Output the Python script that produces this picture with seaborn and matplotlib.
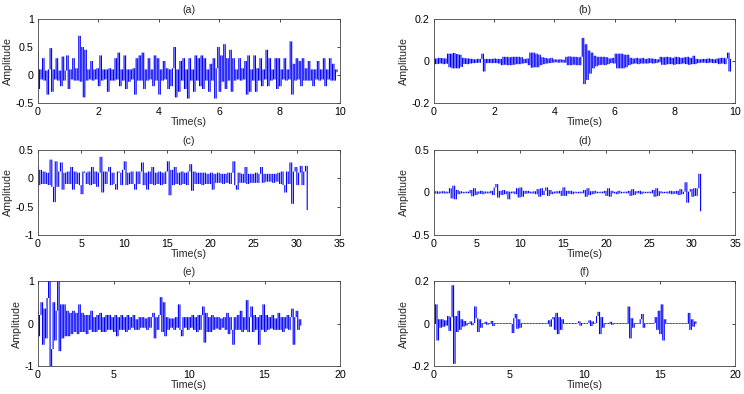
import matplotlib
matplotlib.use("Agg")
import matplotlib.pyplot as plt
import numpy as np
import pandas as pd
import seaborn as sns
from matplotlib.ticker import FuncFormatter

sns.set_theme(style="white")
plt.rcParams["font.family"] = ["Liberation Sans", "DejaVu Sans"]

# (a) samples every 0.05 s
amp_a = [
    0.42, -0.25, 0.1, -0.08, 0.3, -0.1, 0.08, -0.35, 0.1, 0.48,
    -0.3, 0.1, -0.08, 0.3, -0.1, 0.08, -0.2, 0.33, -0.1, 0.08,
    0.35, -0.25, 0.1, -0.08, 0.3, -0.1, 0.12, -0.1, 0.7, -0.12,
    0.5, -0.4, 0.45, -0.1, 0.1, -0.08, 0.25, -0.1, 0.1, -0.08,
    0.12, -0.2, 0.35, -0.1, 0.1, -0.08, 0.1, -0.3, 0.12, -0.1,
    0.1, -0.1, 0.3, -0.08, 0.4, -0.2, 0.1, -0.1, 0.35, -0.25,
    0.1, -0.12, 0.1, -0.08, 0.12, -0.35, 0.3, -0.1, 0.35, -0.1,
    0.4, -0.25, 0.1, -0.1, 0.3, -0.08, 0.1, -0.2, 0.35, -0.1,
    0.3, -0.35, 0.1, -0.1, 0.25, -0.08, 0.12, -0.25, 0.1, -0.2,
    0.12, 0.5, -0.4, 0.1, -0.3, 0.25, -0.1, 0.3, -0.25, 0.1,
    -0.42, 0.3, -0.1, 0.1, -0.3, 0.35, -0.1, 0.3, -0.2, 0.35,
    -0.25, 0.3, -0.1, 0.1, -0.3, 0.2, -0.1, 0.3, -0.42, 0.12,
    0.5, -0.3, 0.35, -0.12, 0.55, -0.25, 0.3, -0.1, 0.45, -0.3,
    0.3, -0.1, 0.1, -0.08, 0.3, -0.1, 0.12, -0.08, 0.25, -0.35,
    0.35, -0.3, 0.1, -0.1, 0.35, -0.3, 0.12, -0.1, 0.3, -0.2,
    0.1, -0.08, 0.45, -0.2, 0.3, -0.1, 0.1, -0.08, 0.3, -0.25,
    0.3, -0.2, 0.1, -0.08, 0.3, -0.1, 0.1, -0.08, 0.6, -0.35,
    0.2, -0.1, 0.3, -0.08, 0.25, -0.2, 0.3, -0.1, 0.12, -0.1,
    0.25, -0.1, 0.1, -0.2, 0.1, -0.08, 0.25, -0.1, 0.1, -0.08,
    0.3, -0.2, 0.1, -0.08, 0.3, -0.1, 0.2, -0.1, 0.1, 0.05,
]
dur_a = 9.95

# (b) samples every 0.05 s
amp_b = [
    0.015, -0.015, 0.012, -0.014, 0.015, -0.012, 0.014, -0.015, 0.012, -0.013,
    0.035, -0.03, 0.035, -0.035, 0.038, -0.035, 0.033, -0.035, 0.03, -0.028,
    0.015, -0.014, 0.013, -0.015, 0.012, -0.012, 0.01, -0.01, 0.008, -0.009,
    0.01, -0.008, 0.01, 0.035, -0.05, 0.01, -0.01, 0.01, -0.01, 0.01,
    -0.01, 0.012, -0.01, 0.01, -0.012, 0.01, -0.02, 0.02, -0.018, 0.02,
    -0.02, 0.018, -0.02, 0.02, -0.018, 0.02, -0.015, 0.02, -0.015, 0.018,
    -0.012, 0.01, -0.01, 0.012, -0.02, 0.04, -0.032, 0.04, -0.03, 0.035,
    -0.03, 0.03, -0.02, 0.018, -0.015, 0.015, -0.012, 0.012, -0.01, 0.015,
    -0.008, 0.008, -0.006, 0.007, -0.008, 0.008, -0.007, 0.006, -0.008, 0.02,
    -0.02, 0.022, -0.02, 0.02, -0.018, 0.02, -0.02, 0.018, -0.02, 0.02,
    0.11, -0.11, 0.08, -0.09, 0.05, -0.06, 0.04, -0.035, 0.025, -0.025,
    0.02, -0.02, 0.02, -0.018, 0.02, -0.02, 0.018, -0.015, 0.012, -0.01,
    0.015, -0.012, 0.035, -0.035, 0.035, -0.035, 0.035, -0.035, 0.03, -0.03,
    0.03, -0.02, 0.015, -0.015, 0.012, -0.012, 0.015, -0.015, 0.012, -0.012,
    0.015, -0.012, 0.01, -0.012, 0.013, -0.01, 0.012, -0.012, 0.01, -0.01,
    0.008, -0.006, 0.02, -0.018, 0.018, -0.018, 0.02, -0.015, 0.018, -0.015,
    0.015, -0.018, 0.02, -0.015, 0.018, -0.015, 0.015, -0.012, 0.018, -0.015,
    0.02, -0.018, 0.015, -0.015, 0.025, -0.015, 0.01, -0.01, 0.008, -0.008,
    0.01, -0.008, 0.01, -0.01, 0.012, -0.008, 0.01, -0.01, 0.008, -0.01,
    0.012, -0.015, 0.015, -0.012, 0.015, -0.015, 0.012, 0.04, -0.05, 0.01,
]
dur_b = 9.9

# (c) samples every 0.2 s
amp_c = [
    0.2, -0.12, 0.15, -0.1, 0.12, -0.1, 0.1, -0.12, 0.33, -0.15,
    -0.42, 0.3, -0.15, 0.12, 0.28, -0.2, 0.1, -0.1, 0.12, -0.1,
    0.2, -0.2, 0.12, -0.1, 0.1, -0.12, -0.28, 0.12, 0.1, -0.1,
    0.12, -0.12, 0.2, -0.1, 0.12, -0.15, 0.1, 0.38, -0.25, 0.12,
    -0.1, 0.12, 0.2, -0.12, 0.1, -0.1, -0.2, 0.12, 0.1, -0.12,
    0.15, 0.3, -0.12, 0.1, -0.1, 0.12, -0.1, -0.2, 0.12, -0.1,
    0.12, 0.28, -0.12, 0.1, -0.2, 0.12, -0.1, 0.2, -0.12, 0.1,
    -0.1, 0.12, -0.12, 0.1, -0.1, 0.12, 0.3, -0.3, 0.15, -0.12,
    0.2, -0.1, 0.1, -0.12, 0.12, -0.1, 0.1, -0.12, 0.12, 0.25,
    -0.22, 0.12, -0.1, 0.1, -0.1, 0.1, -0.12, 0.1, -0.1, 0.08,
    -0.1, 0.1, -0.2, 0.08, -0.08, 0.1, -0.08, 0.08, -0.1, 0.08,
    -0.08, 0.1, -0.1, 0.1, 0.3, -0.12, -0.2, 0.1, -0.08, 0.08,
    -0.08, 0.2, -0.1, 0.08, -0.08, 0.08, -0.08, 0.1, -0.08, 0.08,
    0.2, -0.08, 0.08, -0.06, 0.08, -0.06, 0.08, -0.08, 0.08, -0.06,
    0.1, -0.1, 0.12, -0.12, -0.25, 0.12, -0.1, 0.28, -0.45, 0.12,
    0.2, -0.12, 0.1, 0.22, -0.12, 0.12, 0.22, -0.56,
]
dur_c = 31.4

# (d) samples every 0.2 s
amp_d = [
    0.01, -0.012, 0.015, -0.015, 0.012, -0.01, 0.015, -0.012, 0.01, -0.01,
    0.05, -0.07, 0.08, -0.08, 0.03, -0.02, 0.015, -0.01, 0.008, -0.008,
    0.01, -0.01, 0.03, -0.045, 0.05, -0.03, 0.012, -0.015, 0.02, -0.02,
    0.012, -0.01, 0.01, -0.01, 0.02, -0.03, 0.06, 0.1, -0.06, 0.02,
    -0.03, 0.03, -0.02, 0.015, -0.08, 0.01, -0.01, 0.012, -0.02, 0.05,
    -0.06, 0.06, -0.05, 0.02, -0.015, 0.02, -0.01, 0.01, -0.012, 0.015,
    -0.02, 0.04, -0.05, 0.05, -0.03, 0.02, 0.06, -0.04, 0.03, -0.02,
    0.01, -0.01, 0.015, -0.012, 0.02, -0.04, 0.06, -0.04, 0.02, -0.015,
    0.02, -0.02, 0.01, -0.008, 0.008, -0.01, 0.01, -0.01, 0.03, -0.05,
    0.05, -0.03, 0.015, -0.02, 0.02, -0.01, 0.008, -0.008, 0.01, -0.01,
    0.02, -0.04, 0.05, -0.05, 0.02, -0.01, 0.008, -0.02, 0.02, -0.01,
    0.008, -0.008, 0.01, -0.01, 0.02, -0.04, 0.04, -0.03, 0.015, -0.01,
    0.02, -0.02, 0.01, -0.008, 0.008, -0.008, 0.01, -0.01, 0.03, -0.05,
    0.05, -0.04, 0.015, -0.01, 0.008, -0.008, 0.01, -0.012, 0.02, -0.02,
    0.015, -0.015, 0.02, -0.03, 0.04, -0.02, 0.01, 0.12, -0.12, 0.01,
    0.04, -0.05, 0.05, -0.04, 0.05, 0.22, -0.22,
]
dur_d = 31.2

# (e) samples every 0.1 s
amp_e = [
    0.3, -0.3, 0.2, 0.5, -0.5, 0.35, -0.35, 0.6, 1.0, -1.05,
    -0.6, 0.5, -0.4, 0.3, 1.0, -0.65, 0.45, -0.35, 0.45, -0.3,
    0.3, -0.3, 0.25, -0.25, 0.3, -0.2, 0.25, -0.25, 0.45, -0.2,
    0.25, -0.2, 0.2, -0.25, 0.2, -0.15, 0.3, -0.2, 0.15, -0.2,
    0.2, -0.15, 0.25, -0.2, 0.15, -0.2, 0.2, -0.15, 0.2, -0.15,
    0.15, -0.2, 0.2, -0.3, 0.15, -0.15, 0.2, -0.15, 0.15, -0.2,
    0.2, -0.15, 0.15, -0.1, 0.2, -0.15, 0.1, -0.15, 0.15, -0.1,
    0.15, -0.1, 0.12, -0.15, 0.15, -0.1, 0.15, 0.25, -0.35, 0.15,
    -0.15, 0.2, 0.62, -0.2, 0.5, -0.3, 0.15, -0.15, 0.12, -0.1,
    0.12, -0.15, 0.15, -0.1, 0.45, -0.15, -0.3, 0.15, -0.1, 0.15,
    -0.15, 0.15, -0.1, 0.2, -0.15, 0.15, -0.2, 0.2, -0.15, 0.2,
    0.4, -0.45, 0.25, -0.2, 0.15, -0.2, 0.2, -0.15, 0.15, -0.12,
    0.15, -0.15, 0.12, -0.1, 0.15, -0.15, 0.25, -0.25, 0.15, -0.15,
    -0.5, 0.15, -0.15, 0.2, -0.15, 0.3, -0.2, 0.15, -0.15, 0.55,
    -0.2, 0.15, 0.4, -0.2, 0.2, -0.15, 0.15, -0.5, 0.2, -0.15,
    0.45, -0.2, 0.2, -0.15, 0.15, -0.12, 0.2, -0.15, 0.12, -0.15,
    0.25, -0.15, 0.15, -0.2, 0.15, -0.12, 0.2, -0.15, 0.15, 0.35,
    -0.5, 0.15, 0.3, -0.15, 0.1, -0.05,
]
dur_e = 17.5

# (f) samples every 0.1 s
amp_f = [
    0.002, -0.002, 0.09, -0.08, 0.02, -0.02, 0.02, -0.015, 0.015, -0.01,
    0.035, -0.035, 0.03, 0.18, -0.19, 0.035, -0.04, 0.06, -0.03, 0.02,
    -0.015, 0.012, -0.01, 0.002, -0.002, 0.01, -0.008, 0.002, 0.08, 0.025,
    -0.04, 0.02, -0.02, 0.002, -0.002, 0.008, -0.006, 0.002, -0.002, 0.012,
    -0.012, 0.002, -0.002, 0.002, -0.002, 0.002, -0.002, 0.002, -0.002, 0.002,
    -0.002, 0.002, -0.002, -0.045, 0.025, 0.045, -0.025, 0.02, -0.02, 0.002,
    -0.002, 0.002, -0.002, 0.002, -0.002, 0.002, -0.002, 0.002, -0.002, 0.002,
    -0.002, 0.002, -0.002, 0.002, -0.002, 0.002, -0.002, 0.015, -0.015, 0.02,
    0.03, -0.03, 0.05, -0.05, 0.03, -0.03, 0.02, -0.002, 0.002, -0.002,
    0.002, -0.002, 0.002, -0.002, 0.002, -0.002, 0.002, 0.01, -0.01, 0.002,
    -0.002, 0.002, -0.002, 0.002, 0.015, -0.012, 0.01, -0.002, 0.002, 0.035,
    0.055, -0.05, 0.03, -0.02, 0.002, -0.002, 0.002, -0.002, 0.008, -0.006,
    0.002, -0.002, 0.002, -0.002, 0.002, -0.002, 0.002, -0.002, 0.002, -0.002,
    0.08, -0.07, 0.025, -0.02, 0.002, -0.002, 0.002, -0.002, 0.02, 0.045,
    -0.02, 0.002, -0.002, 0.002, -0.002, 0.002, -0.002, 0.002, 0.03, -0.03,
    0.06, -0.05, 0.09, -0.08, 0.02, -0.002, 0.002, -0.002, 0.002, -0.002,
    0.002, -0.002, 0.002, -0.002, 0.002, -0.002, 0.002, -0.002, 0.002, -0.002,
    0.05, -0.03, 0.02, -0.015, 0.01, -0.002,
]
dur_f = 17.5

xticks_10 = [0, 2, 4, 6, 8, 10]
xticks_35 = [0, 5, 10, 15, 20, 25, 30, 35]
xticks_20 = [0, 5, 10, 15, 20]

panels = [
    ("(a)", amp_a, dur_a, xticks_10, [-0.5, 0, 0.5, 1]),
    ("(b)", amp_b, dur_b, xticks_10, [-0.2, 0, 0.2]),
    ("(c)", amp_c, dur_c, xticks_35, [-1, -0.5, 0, 0.5]),
    ("(d)", amp_d, dur_d, xticks_35, [-0.5, 0, 0.5]),
    ("(e)", amp_e, dur_e, xticks_20, [-1, 0, 1]),
    ("(f)", amp_f, dur_f, xticks_20, [-0.2, 0, 0.2]),
]


def column_frame(amp, dur):
    """One vertical stroke per sample, spanning this sample to the next."""
    y = np.asarray(amp, dtype=float)
    t = np.linspace(0, dur, len(y))
    idx = np.arange(len(y) - 1)
    return pd.DataFrame({
        "t": np.repeat(t[:-1], 2),
        "amp": np.column_stack([y[:-1], y[1:]]).ravel(),
        "seg": np.repeat(idx, 2),
    })


W, H = 744, 394
fig = plt.figure(figsize=(W / 100, H / 100), dpi=100)
fig.patch.set_facecolor("white")

col_left = [38, 434]
col_width = [302, 301]
row_top = [19, 150, 281]
row_height = [84, 85, 85]

fmt = FuncFormatter(lambda v, p: "%g" % v)

for i, (title, amp, dur, xt, yt) in enumerate(panels):
    r, c = divmod(i, 2)
    ax = fig.add_axes([
        col_left[c] / W,
        1 - (row_top[r] + row_height[r]) / H,
        col_width[c] / W,
        row_height[r] / H,
    ])
    df = column_frame(amp, dur)
    sns.lineplot(data=df, x="t", y="amp", units="seg", estimator=None,
                 sort=False, ax=ax, color="#0000ff", linewidth=0.8,
                 snap=False, solid_capstyle="butt")
    ax.set_xlim(xt[0], xt[-1])
    ax.set_ylim(yt[0], yt[-1])
    ax.set_xticks(xt)
    ax.set_yticks(yt)
    ax.xaxis.set_major_formatter(fmt)
    ax.yaxis.set_major_formatter(fmt)
    ax.tick_params(direction="in", length=2.5, width=0.5, top=True, right=True,
                   labelsize=7.7, pad=3, colors="black")
    for s in ax.spines.values():
        s.set_linewidth(0.6)
        s.set_color("#444444")
    ax.set_facecolor("white")
    ax.grid(False)
    ax.set_title(title, fontsize=7.7, pad=4)
    ax.set_xlabel("Time(s)", fontsize=7.7, labelpad=0)
    ax.set_ylabel("Amplitude", fontsize=7.7, labelpad=2)

fig.savefig("out.png", dpi=100, facecolor="white")
